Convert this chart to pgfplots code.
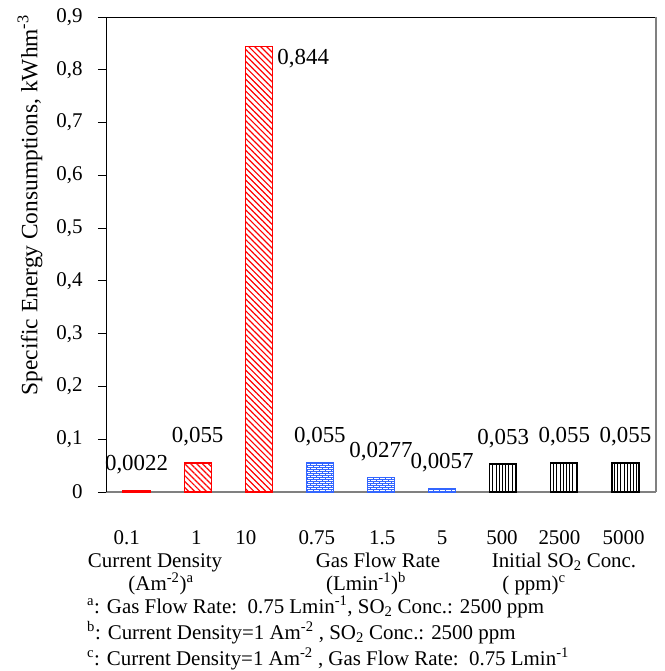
\documentclass[border=0pt]{standalone}
\usepackage{fontspec}
\setmainfont{Liberation Serif}
\usepackage{pgfplots}
\pgfplotsset{compat=1.18}
\usetikzlibrary{patterns,patterns.meta}

\definecolor{myblue}{RGB}{51,102,255}
\pgfdeclarepatternformonly{smallbricks}{\pgfpoint{-0.5bp}{-0.5bp}}{\pgfpoint{6.5bp}{4.5bp}}{\pgfpoint{6bp}{4bp}}{%
  \pgfsetlinewidth{0.9bp}%
  \pgfpathmoveto{\pgfpoint{0bp}{0bp}}\pgfpathlineto{\pgfpoint{6bp}{0bp}}%
  \pgfpathmoveto{\pgfpoint{0bp}{2bp}}\pgfpathlineto{\pgfpoint{6bp}{2bp}}%
  \pgfpathmoveto{\pgfpoint{1bp}{0bp}}\pgfpathlineto{\pgfpoint{1bp}{2bp}}%
  \pgfpathmoveto{\pgfpoint{4bp}{2bp}}\pgfpathlineto{\pgfpoint{4bp}{4bp}}%
  \pgfusepath{stroke}}

\newcommand{\lblfont}{\fontsize{21}{25}\selectfont}
\newcommand{\datafont}{\fontsize{23}{27}\selectfont}

\begin{document}
\begin{tikzpicture}
\begin{axis}[
  name=ax,
  scale only axis, width=550bp, height=475bp,
  xmin=-0.5, xmax=8.5, ymin=0, ymax=0.9,
  clip=false,
  ybar, bar width=27bp,
  axis x line*=bottom, axis y line*=left,
  x axis line style={draw=gray, line width=1.2bp, -},
  y axis line style={draw=black, line width=0.8bp, -},
  xtick={-0.16,0.98,1.79,2.95,4.02,5.0,5.98,6.92,7.97},
  xticklabels={0.1,1,10,0.75,1.5,5,500,2500,5000},
  x tick style={draw=none},
  xticklabel style={anchor=base, yshift=-44bp, font=\lblfont},
  ytick={0,0.1,0.2,0.3,0.4,0.5,0.6,0.7,0.8,0.9},
  y tick style={draw=black, line width=0.8bp},
  tick align=outside, major tick length=8bp,
  /pgf/number format/assume math mode=true,
  yticklabel style={/pgf/number format/.cd, fixed, fixed zerofill=false, precision=1, use comma, /tikz/.cd, font=\lblfont, xshift=-12bp},
  ylabel={Specific Energy Consumptions, kWhm\textsuperscript{-3}},
  ylabel style={at={(axis description cs:-0.138,0.604)}, anchor=center, font=\fontsize{23.5}{27}\selectfont},
  point meta=explicit symbolic,
  nodes near coords,
]
% Current density (red, diagonal hatch)
\addplot[draw=red, line width=1.3bp, bar shift=0pt,
  pattern={Lines[angle=-45,distance=4.2bp,line width=1.2bp]}, pattern color=red,
  nodes near coords style={font=\datafont, anchor=base, yshift=20bp, text=black}]
  coordinates {(0,0.0022) [0,0022] (1,0.055) [0,055]};
\addplot[draw=red, line width=1.3bp, bar shift=0pt,
  pattern={Lines[angle=-45,distance=4.2bp,line width=1.2bp]}, pattern color=red,
  nodes near coords style={font=\datafont, anchor=base west, inner xsep=0pt, xshift=18bp, yshift=-18bp, text=black}]
  coordinates {(2,0.844) [0,844]};
% Gas flow rate (blue, bricks)
\addplot[draw=myblue, line width=1.3bp, bar shift=0pt,
  pattern=smallbricks, pattern color=myblue,
  nodes near coords style={font=\datafont, anchor=base, yshift=20bp, text=black}]
  coordinates {(3,0.055) [0,055] (4,0.0277) [0,0277] (5,0.0057) [0,0057]};
% Initial SO2 concentration (black, vertical lines)
\addplot[draw=black, line width=1.3bp, bar shift=0pt,
  pattern={Lines[angle=90,distance=3.2bp,line width=0.8bp]}, pattern color=black,
  nodes near coords style={font=\datafont, anchor=base, yshift=20bp, text=black}]
  coordinates {(6,0.053) [0,053] (7,0.055) [0,055] (8,0.055) [0,055]};
\end{axis}
\draw[black, line width=0.8bp] (ax.north west) -- (ax.north east);
\draw[gray, line width=1.2bp] (ax.north east) -- (ax.south east);
\begin{scope}[shift={(ax.south west)}, x=1bp, y=-1bp, every node/.style={font=\lblfont, inner sep=0pt}]
  \node[anchor=base] at (49,75) {Current Density};
  \node[anchor=base] at (55,98) {(Am\textsuperscript{-2})\textsuperscript{a}};
  \node[anchor=base] at (272,75) {Gas Flow Rate};
  \node[anchor=base] at (260,98) {(Lmin\textsuperscript{-1})\textsuperscript{b}};
  \node[anchor=base] at (458,75) {Initial SO\textsubscript{2} Conc.};
  \node[anchor=base] at (428,98) {( ppm)\textsuperscript{c}};
  \node[anchor=base west] at (-19,121) {\textsuperscript{a}: Gas Flow Rate:\ \ 0.75 Lmin\textsuperscript{-1}, SO\textsubscript{2} Conc.: 2500 ppm};
  \node[anchor=base west] at (-19,147) {\textsuperscript{b}: Current Density=1 Am\textsuperscript{-2} , SO\textsubscript{2} Conc.: 2500 ppm};
  \node[anchor=base west] at (-19,173) {\textsuperscript{c}: Current Density=1 Am\textsuperscript{-2} , Gas Flow Rate:\ \ 0.75 Lmin\textsuperscript{-1}};
  \pgfresetboundingbox
  \path[use as bounding box] (-106,-492) rectangle (559,179);
\end{scope}
\end{tikzpicture}
\end{document}
